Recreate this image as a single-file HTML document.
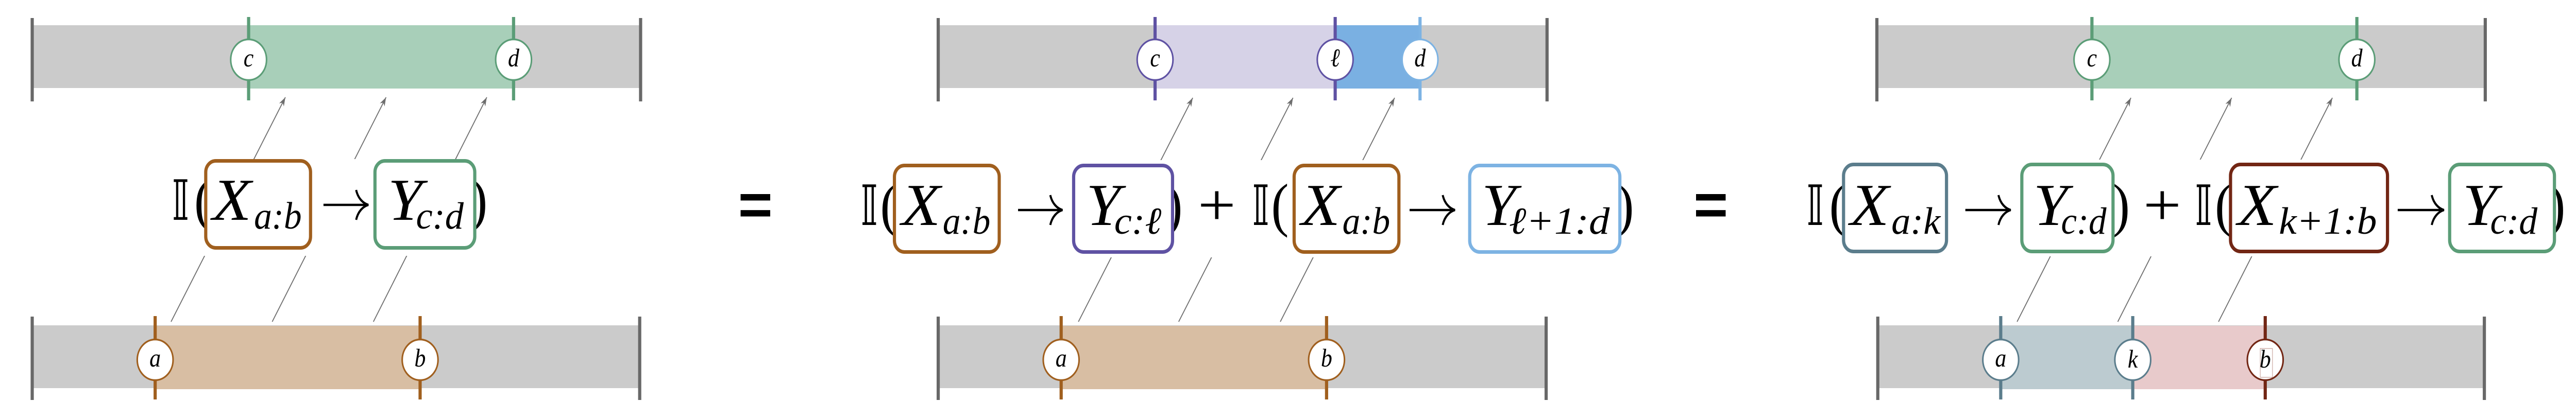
<!DOCTYPE html>
<html><head><meta charset="utf-8">
<style>
html,body{margin:0;padding:0;background:#fff;overflow:hidden;width:100%;height:100%;}
svg{display:block;width:100vw;height:100vh;}
.m{font-family:"Liberation Serif","DejaVu Serif",serif;font-style:italic;}
.r{font-family:"Liberation Serif","DejaVu Serif",serif;}
.bb{font-family:"Liberation Serif","DejaVu Sans","DejaVu Serif",serif;}
.eq{font-family:"Liberation Sans","DejaVu Sans",sans-serif;font-weight:bold;}
.ar{fill:none;stroke:#000;stroke-width:4.5;}
</style></head>
<body>
<svg viewBox="0 0 5678 812" preserveAspectRatio="none" xmlns="http://www.w3.org/2000/svg">
<defs>
<marker id="ah" markerUnits="userSpaceOnUse" markerWidth="30" markerHeight="20" viewBox="-20 -10 22 20" refX="0" refY="0" orient="auto">
<path d="M0,0 L-17,-6 L-12,0 L-17,6 Z" fill="#6e6e6e"/>
</marker>
</defs>
<rect width="5678" height="812" fill="#fff"/>

<!-- ===================== LEFT PANEL ===================== -->
<rect x="71" y="49" width="1341" height="122" fill="#cbcbcb"/>
<rect x="548" y="49" width="584" height="123" fill="#a8cfb9"/>
<line x1="71" y1="35" x2="71" y2="197" stroke="#686868" stroke-width="7"/>
<line x1="1412" y1="35" x2="1412" y2="197" stroke="#686868" stroke-width="7"/>
<line x1="548" y1="33" x2="548" y2="195" stroke="#5b9d77" stroke-width="7"/>
<line x1="1132" y1="33" x2="1132" y2="195" stroke="#5b9d77" stroke-width="7"/>
<circle cx="548" cy="116" r="39.5" fill="#fff" stroke="#5b9d77" stroke-width="3.5"/>
<circle cx="1132" cy="116" r="39.5" fill="#fff" stroke="#5b9d77" stroke-width="3.5"/>
<text class="m" x="548" y="129" font-size="50" text-anchor="middle">c</text>
<text class="m" x="1132" y="129" font-size="50" text-anchor="middle">d</text>
<rect x="71" y="632" width="1339" height="122" fill="#cbcbcb"/>
<rect x="342" y="633" width="584" height="123" fill="#d8bea3"/>
<line x1="71" y1="615" x2="71" y2="777" stroke="#686868" stroke-width="7"/>
<line x1="1410" y1="615" x2="1410" y2="777" stroke="#686868" stroke-width="7"/>
<line x1="342" y1="614" x2="342" y2="776" stroke="#a05f1e" stroke-width="7"/>
<line x1="926" y1="614" x2="926" y2="776" stroke="#a05f1e" stroke-width="7"/>
<circle cx="342" cy="699" r="39.5" fill="#fff" stroke="#a05f1e" stroke-width="3.5"/>
<circle cx="926" cy="699" r="39.5" fill="#fff" stroke="#a05f1e" stroke-width="3.5"/>
<text class="m" x="342" y="712" font-size="50" text-anchor="middle">a</text>
<text class="m" x="926" y="712" font-size="50" text-anchor="middle">b</text>
<line x1="377" y1="625" x2="629" y2="189" stroke="#6e6e6e" stroke-width="2" marker-end="url(#ah)"/>
<line x1="600" y1="625" x2="851" y2="189" stroke="#6e6e6e" stroke-width="2" marker-end="url(#ah)"/>
<line x1="823" y1="625" x2="1073" y2="189" stroke="#6e6e6e" stroke-width="2" marker-end="url(#ah)"/>
<rect x="360" y="309" width="740" height="188" fill="#fff"/>
<text class="bb" x="378" y="427" font-size="108" textLength="40" lengthAdjust="spacingAndGlyphs">𝕀</text>
<text class="r" x="428" y="427" font-size="116">(</text>
<rect x="453.5" y="312.5" width="231" height="169" rx="22" fill="#fff" stroke="#a05f1e" stroke-width="7"/>
<text class="m" x="468" y="427" font-size="116" textLength="86" lengthAdjust="spacingAndGlyphs">X</text>
<text class="m" x="560" y="444" font-size="74" textLength="105" lengthAdjust="spacingAndGlyphs">a:b</text>
<path class="ar" d="M713,398 H808 M785,369 C789,385 800,395 812,398 C800,401 789,411 785,427"/>
<text class="r" x="1036" y="427" font-size="116">)</text>
<rect x="826.5" y="312.5" width="220" height="169" rx="22" fill="#fff" stroke="#5b9d77" stroke-width="7"/>
<text class="m" x="855" y="427" font-size="116" textLength="76" lengthAdjust="spacingAndGlyphs">Y</text>
<text class="m" x="917" y="444" font-size="74" textLength="105" lengthAdjust="spacingAndGlyphs">c:d</text>

<text class="eq" x="1627" y="437" font-size="115" textLength="76" lengthAdjust="spacingAndGlyphs">=</text>

<!-- ===================== MIDDLE PANEL ===================== -->
<rect x="2068" y="49" width="1342" height="122" fill="#cbcbcb"/>
<rect x="2546" y="49" width="397" height="123" fill="#d6d2e7"/>
<rect x="2943" y="49" width="187" height="123" fill="#7ab0e2"/>
<line x1="2068" y1="35" x2="2068" y2="197" stroke="#686868" stroke-width="7"/>
<line x1="3410" y1="35" x2="3410" y2="197" stroke="#686868" stroke-width="7"/>
<line x1="2546" y1="33" x2="2546" y2="195" stroke="#5f52a3" stroke-width="7"/>
<line x1="2943" y1="33" x2="2943" y2="195" stroke="#5f52a3" stroke-width="7"/>
<line x1="3130" y1="33" x2="3130" y2="195" stroke="#7db3e3" stroke-width="7"/>
<circle cx="2546" cy="116" r="39.5" fill="#fff" stroke="#5f52a3" stroke-width="3.5"/>
<circle cx="2943" cy="116" r="39.5" fill="#fff" stroke="#5f52a3" stroke-width="3.5"/>
<circle cx="3130" cy="116" r="39.5" fill="#fff" stroke="#7db3e3" stroke-width="3.5"/>
<text class="m" x="2546" y="129" font-size="50" text-anchor="middle">c</text>
<text class="m" x="2943" y="129" font-size="50" text-anchor="middle">ℓ</text>
<text class="m" x="3130" y="129" font-size="50" text-anchor="middle">d</text>
<rect x="2068" y="632" width="1340" height="122" fill="#cbcbcb"/>
<rect x="2339" y="633" width="585" height="123" fill="#d8bea3"/>
<line x1="2068" y1="615" x2="2068" y2="777" stroke="#686868" stroke-width="7"/>
<line x1="3408" y1="615" x2="3408" y2="777" stroke="#686868" stroke-width="7"/>
<line x1="2339" y1="614" x2="2339" y2="776" stroke="#a05f1e" stroke-width="7"/>
<line x1="2924" y1="614" x2="2924" y2="776" stroke="#a05f1e" stroke-width="7"/>
<circle cx="2339" cy="699" r="39.5" fill="#fff" stroke="#a05f1e" stroke-width="3.5"/>
<circle cx="2924" cy="699" r="39.5" fill="#fff" stroke="#a05f1e" stroke-width="3.5"/>
<text class="m" x="2339" y="712" font-size="50" text-anchor="middle">a</text>
<text class="m" x="2924" y="712" font-size="50" text-anchor="middle">b</text>
<line x1="2377" y1="625" x2="2629" y2="190" stroke="#6e6e6e" stroke-width="2" marker-end="url(#ah)"/>
<line x1="2598" y1="625" x2="2850" y2="190" stroke="#6e6e6e" stroke-width="2" marker-end="url(#ah)"/>
<line x1="2822" y1="625" x2="3074" y2="190" stroke="#6e6e6e" stroke-width="2" marker-end="url(#ah)"/>
<rect x="1880" y="311" width="1740" height="189" fill="#fff"/>
<text class="bb" x="1896" y="437" font-size="108" textLength="40" lengthAdjust="spacingAndGlyphs">𝕀</text>
<text class="r" x="1940" y="437" font-size="116">(</text>
<rect x="1971.5" y="321.5" width="231" height="168" rx="22" fill="#fff" stroke="#a05f1e" stroke-width="7"/>
<text class="m" x="1987" y="437" font-size="116" textLength="86" lengthAdjust="spacingAndGlyphs">X</text>
<text class="m" x="2078" y="454" font-size="74" textLength="105" lengthAdjust="spacingAndGlyphs">a:b</text>
<path class="ar" d="M2244,408 H2338 M2315,379 C2319,395 2330,405 2342,408 C2330,411 2319,421 2315,437"/>
<text class="r" x="2568" y="437" font-size="116">)</text>
<rect x="2366.5" y="321.5" width="218" height="168" rx="22" fill="#fff" stroke="#5f52a3" stroke-width="7"/>
<text class="m" x="2394" y="437" font-size="116" textLength="76" lengthAdjust="spacingAndGlyphs">Y</text>
<text class="m" x="2456" y="454" font-size="74" textLength="104" lengthAdjust="spacingAndGlyphs">c:ℓ</text>
<text class="r" x="2640" y="437" font-size="116" textLength="84" lengthAdjust="spacingAndGlyphs">+</text>
<text class="bb" x="2759" y="437" font-size="108" textLength="40" lengthAdjust="spacingAndGlyphs">𝕀</text>
<text class="r" x="2802" y="437" font-size="116">(</text>
<rect x="2852.5" y="321.5" width="231" height="168" rx="22" fill="#fff" stroke="#a05f1e" stroke-width="7"/>
<text class="m" x="2868" y="437" font-size="116" textLength="86" lengthAdjust="spacingAndGlyphs">X</text>
<text class="m" x="2959" y="454" font-size="74" textLength="105" lengthAdjust="spacingAndGlyphs">a:b</text>
<path class="ar" d="M3107,408 H3203 M3180,379 C3184,395 3195,405 3207,408 C3195,411 3184,421 3180,437"/>
<text class="r" x="3563" y="437" font-size="116">)</text>
<rect x="3239.5" y="321.5" width="331" height="168" rx="22" fill="#fff" stroke="#7db3e3" stroke-width="7"/>
<text class="m" x="3266" y="437" font-size="116" textLength="76" lengthAdjust="spacingAndGlyphs">Y</text>
<text class="m" x="3326" y="454" font-size="74" textLength="222" lengthAdjust="spacingAndGlyphs">ℓ+1:d</text>

<text class="eq" x="3733" y="437" font-size="115" textLength="76" lengthAdjust="spacingAndGlyphs">=</text>

<!-- ===================== RIGHT PANEL ===================== -->
<rect x="4137" y="49" width="1341" height="122" fill="#cbcbcb"/>
<rect x="4611" y="49" width="584" height="123" fill="#a8cfb9"/>
<line x1="4137" y1="35" x2="4137" y2="197" stroke="#686868" stroke-width="7"/>
<line x1="5478" y1="35" x2="5478" y2="197" stroke="#686868" stroke-width="7"/>
<line x1="4611" y1="33" x2="4611" y2="195" stroke="#5b9d77" stroke-width="7"/>
<line x1="5195" y1="33" x2="5195" y2="195" stroke="#5b9d77" stroke-width="7"/>
<circle cx="4611" cy="116" r="39.5" fill="#fff" stroke="#5b9d77" stroke-width="3.5"/>
<circle cx="5195" cy="116" r="39.5" fill="#fff" stroke="#5b9d77" stroke-width="3.5"/>
<text class="m" x="4611" y="129" font-size="50" text-anchor="middle">c</text>
<text class="m" x="5195" y="129" font-size="50" text-anchor="middle">d</text>
<rect x="4139" y="632" width="1337" height="122" fill="#cbcbcb"/>
<rect x="4410" y="633" width="291" height="123" fill="#bccbd0"/>
<rect x="4701" y="633" width="292" height="123" fill="#e8cacb"/>
<line x1="4139" y1="615" x2="4139" y2="777" stroke="#686868" stroke-width="7"/>
<line x1="5476" y1="615" x2="5476" y2="777" stroke="#686868" stroke-width="7"/>
<line x1="4410" y1="614" x2="4410" y2="776" stroke="#5b7d8c" stroke-width="7"/>
<line x1="4701" y1="614" x2="4701" y2="776" stroke="#5b7d8c" stroke-width="7"/>
<line x1="4993" y1="614" x2="4993" y2="776" stroke="#722614" stroke-width="7"/>
<circle cx="4410" cy="699" r="39.5" fill="#fff" stroke="#5b7d8c" stroke-width="3.5"/>
<circle cx="4701" cy="699" r="39.5" fill="#fff" stroke="#5b7d8c" stroke-width="3.5"/>
<circle cx="4993" cy="699" r="39.5" fill="#fff" stroke="#722614" stroke-width="3.5"/>
<text class="m" x="4410" y="712" font-size="50" text-anchor="middle">a</text>
<text class="m" x="4701" y="714" font-size="50" text-anchor="middle">k</text>
<text class="m" x="4993" y="714" font-size="50" text-anchor="middle">b</text>
<rect x="4982" y="677" width="27" height="56" fill="none" stroke="#b98a80" stroke-width="1"/>
<line x1="4446" y1="625" x2="4697" y2="190" stroke="#6e6e6e" stroke-width="2" marker-end="url(#ah)"/>
<line x1="4668" y1="625" x2="4919" y2="190" stroke="#6e6e6e" stroke-width="2" marker-end="url(#ah)"/>
<line x1="4890" y1="625" x2="5141" y2="190" stroke="#6e6e6e" stroke-width="2" marker-end="url(#ah)"/>
<rect x="3960" y="310" width="1700" height="188" fill="#fff"/>
<text class="bb" x="3981" y="437" font-size="108" textLength="40" lengthAdjust="spacingAndGlyphs">𝕀</text>
<text class="r" x="4032" y="437" font-size="116">(</text>
<rect x="4063.5" y="319.5" width="227" height="169" rx="22" fill="#fff" stroke="#5b7d8c" stroke-width="7"/>
<text class="m" x="4078" y="437" font-size="116" textLength="86" lengthAdjust="spacingAndGlyphs">X</text>
<text class="m" x="4169" y="454" font-size="74" textLength="108" lengthAdjust="spacingAndGlyphs">a:k</text>
<path class="ar" d="M4332,408 H4428 M4405,379 C4409,395 4420,405 4432,408 C4420,411 4409,421 4405,437"/>
<text class="r" x="4656" y="437" font-size="116">)</text>
<rect x="4456.5" y="319.5" width="201" height="169" rx="22" fill="#fff" stroke="#5b9d77" stroke-width="7"/>
<text class="m" x="4482" y="437" font-size="116" textLength="76" lengthAdjust="spacingAndGlyphs">Y</text>
<text class="m" x="4543" y="454" font-size="74" textLength="100" lengthAdjust="spacingAndGlyphs">c:d</text>
<text class="r" x="4724" y="437" font-size="116" textLength="84" lengthAdjust="spacingAndGlyphs">+</text>
<text class="bb" x="4837" y="437" font-size="108" textLength="40" lengthAdjust="spacingAndGlyphs">𝕀</text>
<text class="r" x="4882" y="437" font-size="116">(</text>
<rect x="4916.5" y="319.5" width="346" height="169" rx="22" fill="#fff" stroke="#722614" stroke-width="7"/>
<text class="m" x="4932" y="437" font-size="116" textLength="86" lengthAdjust="spacingAndGlyphs">X</text>
<text class="m" x="5023" y="454" font-size="74" textLength="216" lengthAdjust="spacingAndGlyphs">k+1:b</text>
<path class="ar" d="M5285,408 H5383 M5360,379 C5364,395 5375,405 5387,408 C5375,411 5364,421 5360,437"/>
<text class="r" x="5616" y="437" font-size="116">)</text>
<rect x="5399.5" y="319.5" width="231" height="169" rx="22" fill="#fff" stroke="#5b9d77" stroke-width="7"/>
<text class="m" x="5428" y="437" font-size="116" textLength="76" lengthAdjust="spacingAndGlyphs">Y</text>
<text class="m" x="5489" y="454" font-size="74" textLength="104" lengthAdjust="spacingAndGlyphs">c:d</text>
</svg>
</body></html>
